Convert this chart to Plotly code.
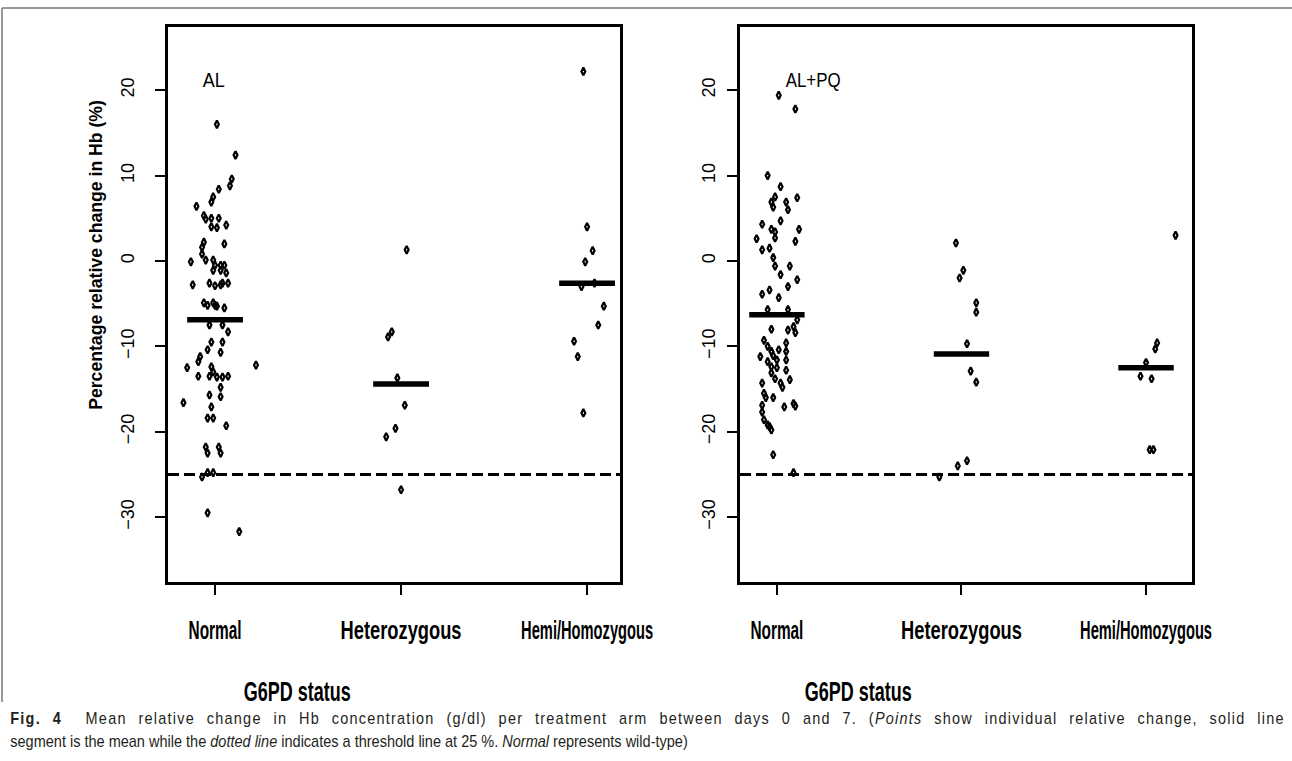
import json
import plotly.graph_objects as go

# ---------------- data ----------------
categories = ["Normal", "Heterozygous", "Hemi/Homozygous"]

# AL arm : values (%) and horizontal jitter (category units)
al_normal_val = [16.0, 12.4, 9.6, 8.8, 8.4, 7.5, 6.9, 6.4, 5.3, 4.9, 5.0, 5.0, 4.0, 3.9, 4.2,
                 2.0, 2.2, 1.6, -0.1, 0.8, 0.1, 0.1, -0.5, -0.5, -0.5, -1.1, -1.4, -1.1,
                 -2.8, -2.6, -2.9, -2.8, -2.6, -2.6, -4.9, -5.2, -4.9, -5.2, -5.3, -5.5,
                 -7.5, -7.5, -8.3, -9.5, -9.5, -10.4, -10.7, -11.2, -11.8, -12.2, -12.5,
                 -12.4, -13.0, -13.5, -13.5, -13.6, -13.6, -13.5, -14.8, -15.7, -15.9,
                 -16.6, -17.1, -18.4, -18.4, -19.3, -21.8, -22.5, -21.8, -22.5, -25.3,
                 -24.8, -24.8, -29.5, -31.7]
al_normal_jit = [0.01, 0.11, 0.09, 0.08, 0.02, -0.01, -0.02, -0.10, -0.06, -0.05, -0.02, 0.02,
                 -0.02, 0.01, 0.06, 0.05, -0.06, -0.07, -0.13, -0.07, -0.05, -0.01, 0.00,
                 0.03, 0.05, -0.01, 0.06, 0.03, -0.12, -0.03, 0.00, 0.03, 0.04, 0.07,
                 -0.06, -0.04, -0.01, 0.00, 0.01, 0.05, -0.03, 0.04, 0.07, -0.02, 0.04,
                 -0.04, 0.03, -0.08, -0.09, 0.22, -0.15, -0.02, -0.01, -0.09, -0.03, 0.01,
                 0.04, 0.07, 0.03, -0.03, 0.03, -0.17, -0.02, -0.04, -0.01, 0.06, -0.05,
                 -0.04, 0.02, 0.03, -0.07, -0.04, -0.01, -0.04, 0.13]
al_het_val = [-8.9, -8.3, -13.7, -16.9, -19.6, -20.6, -26.8, 1.3]
al_het_jit = [-0.07, -0.05, -0.02, 0.02, -0.03, -0.08, 0.00, 0.03]
al_hemi_val = [22.2, 4.0, 1.2, -0.1, -2.6, -3.0, -5.3, -7.5, -9.4, -11.2, -17.8]
al_hemi_jit = [-0.02, 0.00, 0.03, -0.01, 0.04, -0.03, 0.09, 0.06, -0.07, -0.05, -0.02]
al_means = [-6.9, -14.4, -2.6]

# AL+PQ arm
pq_normal_val = [19.4, 17.8, 10.0, 8.7, 6.9, 7.5, 6.3, 6.9, 6.0, 7.4, 4.3, 3.7, 3.4, 2.7, 4.7,
                 3.7, 2.3, 2.6, 1.3, 1.5, 0.4, -0.6, -1.6, -0.6, -2.2, -3.0, -3.9, -3.4,
                 -4.3, -5.7, -5.7, -8.0, -6.9, -7.7, -8.1, -8.4, -9.3, -10.0, -10.6,
                 -11.1, -10.4, -9.6, -10.6, -11.2, -11.8, -12.4, -11.6, -12.5, -11.6,
                 -12.8, -13.1, -13.8, -14.3, -14.8, -13.9, -14.3, -15.5, -16.0, -16.0,
                 -16.9, -17.7, -18.6, -19.2, -19.8, -19.4, -17.1, -16.7, -17.0, -22.7,
                 -24.8]
pq_normal_jit = [0.01, 0.10, -0.05, 0.02, -0.03, -0.01, -0.02, 0.05, 0.06, 0.11, -0.08, -0.03,
                 -0.01, -0.01, 0.02, 0.12, 0.10, -0.11, -0.08, -0.04, -0.02, -0.01, 0.02,
                 0.07, 0.11, 0.06, -0.08, -0.04, 0.01, -0.05, 0.06, -0.03, 0.11, 0.09,
                 0.06, 0.10, -0.07, -0.05, -0.03, -0.02, 0.01, 0.05, 0.05, -0.09, -0.05,
                 -0.03, 0.00, 0.00, 0.05, 0.05, -0.03, -0.01, 0.02, 0.03, 0.07, -0.08,
                 -0.07, -0.06, -0.02, -0.08, -0.08, -0.07, -0.05, -0.03, -0.04, 0.04,
                 0.09, 0.10, -0.02, 0.09]
pq_het_val = [2.1, -1.1, -2.0, -4.9, -6.0, -9.7, -12.9, -14.2, -24.0, -23.4, -25.3]
pq_het_jit = [-0.03, 0.01, -0.01, 0.08, 0.08, 0.03, 0.05, 0.08, -0.02, 0.03, -0.12]
pq_hemi_val = [3.0, -9.6, -10.3, -11.9, -13.5, -13.8, -22.1, -22.1]
pq_hemi_jit = [0.16, 0.06, 0.05, 0.00, -0.03, 0.03, 0.02, 0.04]
pq_means = [-6.3, -10.9, -12.5]

threshold = -25
y_ticks = [-30, -20, -10, 0, 10, 20]
panel_titles = ["AL", "AL+PQ"]
x_title = "G6PD status"
y_title = "Percentage relative change in Hb (%)"
caption1 = ("<b>Fig. 4</b>  Mean relative change in Hb concentration (g/dl) per treatment arm "
            "between days 0 and 7. (<i>Points</i> show individual relative change, solid line")
caption2 = ("segment is the mean while the <i>dotted line</i> indicates a threshold line at 25 %. "
            "<i>Normal</i> represents wild-type)")

# ---------------- figure ----------------
SANS = "Liberation Sans, Arial, sans-serif"
W, H = 1292, 761

fig = go.Figure()

arms = [
    ([al_normal_val, al_het_val, al_hemi_val], [al_normal_jit, al_het_jit, al_hemi_jit], al_means, "x", "y"),
    ([pq_normal_val, pq_het_val, pq_hemi_val], [pq_normal_jit, pq_het_jit, pq_hemi_jit], pq_means, "x2", "y2"),
]
half_bar = 0.15
for vals_list, jit_list, means, xa, ya in arms:
    for ci, (vals, jits) in enumerate(zip(vals_list, jit_list)):
        fig.add_trace(go.Scatter(
            x=[ci + 1 + j for j in jits], y=vals, mode="markers",
            marker=dict(symbol="diamond-tall-open", size=5.5, color="black",
                        line=dict(width=2.2, color="black")),
            xaxis=xa, yaxis=ya, showlegend=False, hoverinfo="y"))
        fig.add_trace(go.Scatter(
            x=[ci + 1 - half_bar, ci + 1 + half_bar], y=[means[ci], means[ci]],
            mode="lines", line=dict(color="black", width=5.5),
            xaxis=xa, yaxis=ya, showlegend=False, hoverinfo="y"))
    fig.add_shape(type="line", xref=f"{xa} domain", yref=ya, x0=0, x1=1,
                  y0=threshold, y1=threshold,
                  line=dict(color="black", width=3, dash="11px,5px"))

ydom = [1 - 582 / H, 1 - 27 / H]
axis_common = dict(showline=True, mirror=True, linecolor="black", linewidth=2.7,
                   ticks="outside", ticklen=10, tickwidth=2, tickcolor="black",
                   showgrid=False, zeroline=False, automargin=False)
xtickfont = dict(family=SANS, size=25, color="black", weight="bold")

fig.update_layout(
    width=W, height=H, autosize=False, margin=dict(l=0, r=0, t=0, b=0),
    paper_bgcolor="white", plot_bgcolor="white",
    xaxis=dict(domain=[168 / W, 620 / W], range=[0.747, 3.177], tickvals=[1, 2, 3],
               ticktext=categories, tickfont=xtickfont, tickangle=0, ticklabelstandoff=14,
               **axis_common),
    xaxis2=dict(domain=[740 / W, 1192 / W], range=[0.80, 3.249], tickvals=[1, 2, 3],
                ticktext=categories, tickfont=xtickfont, tickangle=0, ticklabelstandoff=14,
                anchor="y2", **axis_common),
    yaxis=dict(domain=ydom, range=[-37.6, 27.4], tickvals=y_ticks, tickangle=-90,
               tickfont=dict(family=SANS, size=18, color="black"), ticklabelstandoff=14,
               **axis_common),
    yaxis2=dict(domain=ydom, range=[-37.6, 27.4], tickvals=y_ticks, tickangle=-90,
                tickfont=dict(family=SANS, size=18, color="black"), ticklabelstandoff=5,
                anchor="x2", **axis_common),
)


def paper_text(text, xc, yc, size, **kw):
    d = dict(text=text, x=xc / W, y=1 - yc / H, xref="paper", yref="paper",
             xanchor="center", yanchor="middle", showarrow=False,
             font=dict(family=SANS, size=size, color=kw.pop("color", "black")))
    d.update(kw)
    return d


ann = [
    paper_text(panel_titles[0], 214, 80, 21),
    paper_text(panel_titles[1], 813, 80, 21),
    paper_text(f"<b>{x_title}</b>", 297, 692, 27),
    paper_text(f"<b>{x_title}</b>", 858, 692, 27),
    paper_text(f"<b>{y_title}</b>", 96, 255, 18, textangle=-90),
    paper_text(caption1, 8, 718, 16, xanchor="left", color="#231f20"),
    paper_text(caption2, 8, 741, 16, xanchor="left", color="#231f20"),
]
fig.update_layout(annotations=ann)

# outer frame of the figure panel
fig.add_shape(type="line", xref="paper", yref="paper", x0=2 / W, x1=1, y0=1 - 8 / H, y1=1 - 8 / H,
              line=dict(color="#777777", width=1.5))
fig.add_shape(type="line", xref="paper", yref="paper", x0=2 / W, x1=2 / W, y0=1 - 8 / H, y1=1 - 702 / H,
              line=dict(color="#777777", width=1.5))

# target widths (px) of the condensed lettering in the original figure
fit_targets = [
    ["=Normal", 53, "middle"], ["=Heterozygous", 121, "middle"], ["=Hemi/Homozygous", 132, "middle"],
    ["=G6PD status", 107, "middle"], ["=AL", 22, "middle"], ["=AL+PQ", 55, "middle"],
    ["^Percentage", 310, "middle"],
]
caption_left = 10
caption_widths = [1275, 678]  # line 1 is justified to the full width

post = """
document.documentElement.style.margin='0';
document.body.style.margin='0';
document.body.style.overflow='hidden';
var gd = document.getElementById('{plot_id}');
var targets = TARGETS;
var capW = CAPW, capL = CAPL;
function squeeze(t, k, ax, dest) {
  var tr = t.getAttribute('transform') || '';
  t.setAttribute('transform', tr + ' translate(' + dest + ',0) scale(' + k + ',1) translate(' + (-ax) + ',0)');
}
var cap1 = null, cap2 = null;
gd.querySelectorAll('text').forEach(function(t){
  var s = (t.textContent || '').trim();
  if (s.indexOf('Fig.') === 0) { cap1 = t; return; }
  if (s.indexOf('segment is') === 0) { cap2 = t; return; }
  for (var i = 0; i < targets.length; i++) {
    var key = targets[i][0], ok;
    if (key[0] === '=') ok = (s === key.slice(1)); else ok = (s.indexOf(key.slice(1)) === 0);
    if (!ok) continue;
    var bb = t.getBBox();
    if (!bb.width) break;
    var c = bb.x + bb.width / 2;
    squeeze(t, targets[i][1] / bb.width, c, c);
    break;
  }
});
function leftOnPage(t) { return t.getBoundingClientRect().left; }
if (cap1 && cap2) {
  var b2 = cap2.getBBox();
  var k = capW[1] / b2.width;
  var shift2 = capL - leftOnPage(cap2);
  squeeze(cap2, k, b2.x, b2.x + shift2);
  var txt = (cap1.textContent || '').trim();
  var nsp = (txt.match(/\\s+/g) || []).length;
  var nch = txt.length;
  var b1 = cap1.getBBox();
  var extra = capW[0] / k - b1.width;
  if (extra > 0 && nsp > 0) {
    var ls = 0.55 * extra / nch;
    var ws = 0.45 * extra / nsp;
    cap1.style.letterSpacing = ls + 'px';
    cap1.style.wordSpacing = ws + 'px';
  }
  var b1n = cap1.getBBox();
  var shift1 = capL - leftOnPage(cap1);
  squeeze(cap1, capW[0] / b1n.width, b1n.x, b1n.x + shift1);
}
""".replace("TARGETS", json.dumps(fit_targets)).replace("CAPW", json.dumps(caption_widths)) \
   .replace("CAPL", json.dumps(caption_left))

fig.write_html("out.html", config={"responsive": False, "displayModeBar": False}, post_script=post)
